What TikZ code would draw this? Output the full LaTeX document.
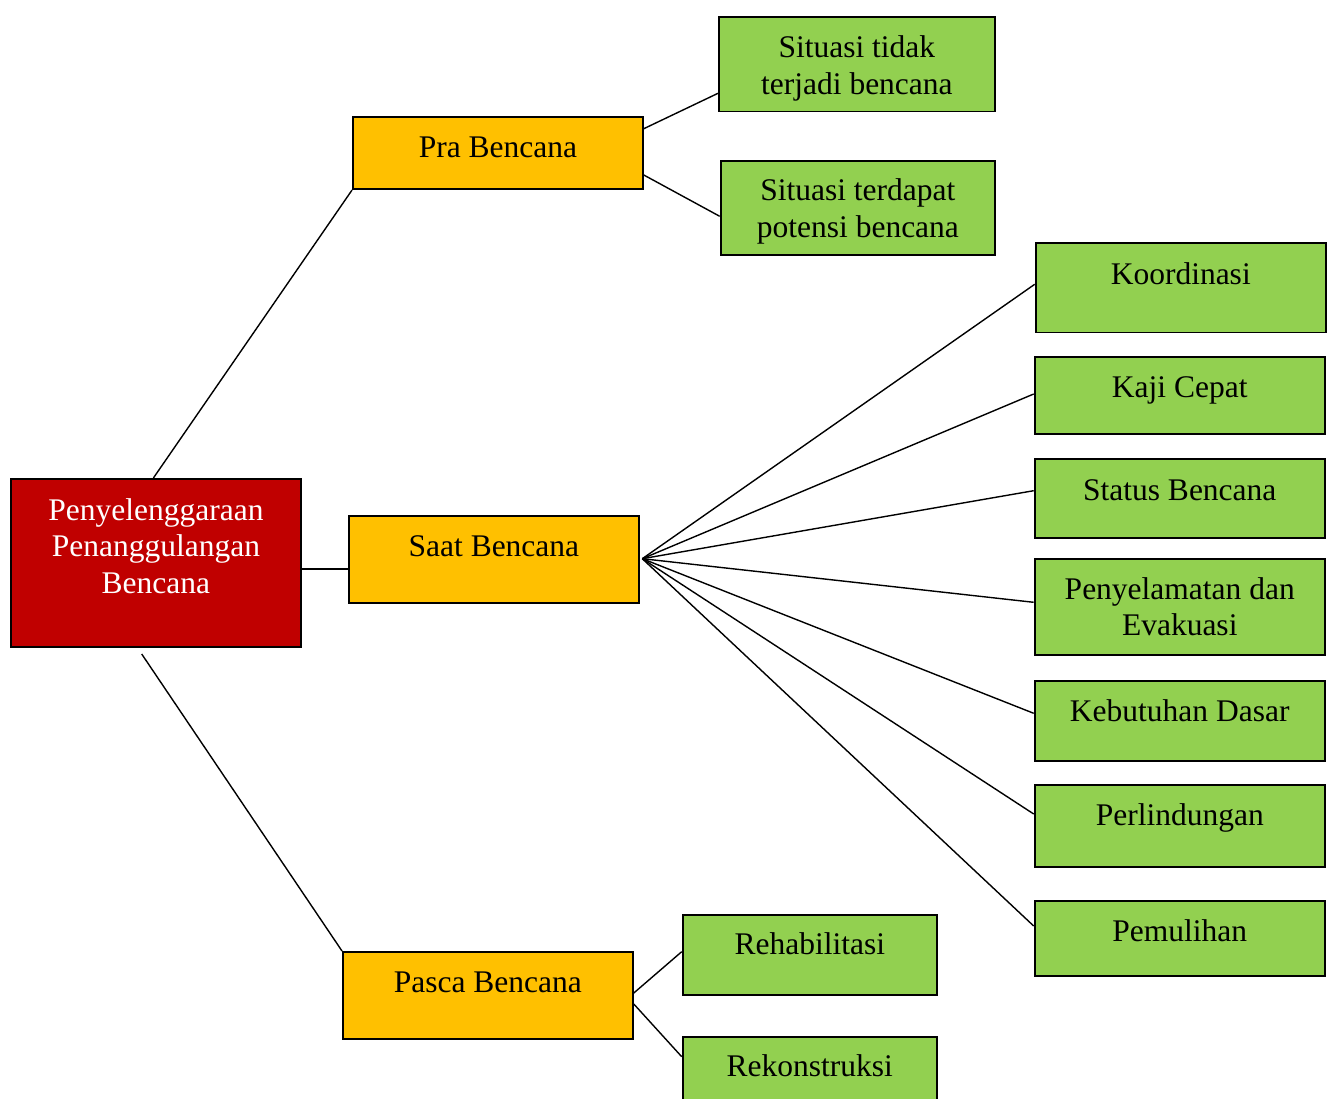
\documentclass[tikz,border=0pt]{standalone}
\usepackage{fontspec}
\setmainfont{Liberation Serif}
\definecolor{rootred}{HTML}{C00000}
\definecolor{phaseorange}{HTML}{FFC000}
\definecolor{itemgreen}{HTML}{92D050}
\newcommand{\twolines}[2]{\begin{tabular}[t]{@{}c@{}}#1\\#2\end{tabular}}
\newcommand{\threelines}[3]{\begin{tabular}[t]{@{}c@{}}#1\\#2\\#3\end{tabular}}
\tikzset{
  box/.style={draw=black, line width=1.8pt, inner sep=0pt, anchor=north west,
    font=\fontsize{31.5}{36.5}\selectfont},
  rootbox/.style={box, fill=rootred, text=white},
  phasebox/.style={box, fill=phaseorange},
  itembox/.style={box, fill=itemgreen},
  link/.style={draw=black, line width=1.4pt},
}
\begin{document}
\begin{tikzpicture}[x=1pt,y=-1pt]
\useasboundingbox (0,0) rectangle (1331,1099);
% root
\node[rootbox, minimum width=290pt, text height=41.3pt, text depth=126.7pt] (root) at (10,478)
  {\threelines{Penyelenggaraan}{Penanggulangan}{Bencana}};
% phases
\node[phasebox, minimum width=290pt, text height=40.7pt, text depth=31.6pt] (pra) at (352,116) {Pra Bencana};
\node[phasebox, minimum width=290pt, text height=40.5pt, text depth=46.5pt] (saat) at (348,515) {Saat Bencana};
\node[phasebox, minimum width=290pt, text height=40.5pt, text depth=46.5pt] (pasca) at (342,951) {Pasca Bencana};
% pra items
\node[itembox, minimum width=276pt, text height=40.8pt, text depth=53.9pt] (sit1) at (718,16)
  {\twolines{Situasi tidak}{terjadi bencana}};
\node[itembox, minimum width=274.6pt, text height=39.7pt, text depth=54pt] (sit2) at (719.7,160.3)
  {\twolines{Situasi terdapat}{potensi bencana}};
% saat items
\node[itembox, minimum width=290.3pt, text height=41pt, text depth=48.4pt] (koor) at (1034.7,242.3) {Koordinasi};
\node[itembox, minimum width=290.3pt, text height=40.7pt, text depth=36.6pt] (kaji) at (1033.7,356) {Kaji Cepat};
\node[itembox, minimum width=290.3pt, text height=41.7pt, text depth=36.7pt] (stat) at (1033.7,458.3) {Status Bencana};
\node[itembox, minimum width=290.3pt, text height=40.2pt, text depth=55.5pt] (peny) at (1033.7,558.3)
  {\twolines{Penyelamatan dan}{Evakuasi}};
\node[itembox, minimum width=290.3pt, text height=40.7pt, text depth=39.3pt] (kebu) at (1033.7,680) {Kebutuhan Dasar};
\node[itembox, minimum width=290.3pt, text height=40pt, text depth=41.7pt] (perl) at (1033.7,784.3) {Perlindungan};
\node[itembox, minimum width=290.3pt, text height=41pt, text depth=34pt] (pemu) at (1033.7,900) {Pemulihan};
% pasca items
\node[itembox, minimum width=254.3pt, text height=40pt, text depth=40.3pt] (rehab) at (681.7,914) {Rehabilitasi};
\node[itembox, minimum width=254.3pt, text height=40pt, text depth=34pt] (rekon) at (681.7,1036) {Rekonstruksi};
% free ends
\coordinate (fan) at (642.3,558.7);
\coordinate (rootlow) at (141.7,654);
% connectors from root
\draw[link] ([xshift=-2.5pt]root.north) -- (pra.south west);
\draw[link] ([yshift=-6pt]root.east) -- ([yshift=-6pt]root.east -| saat.west);
\draw[link] (rootlow) -- (pasca.north west);
% pra
\draw[link] ([yshift=-12.7pt]pra.north east) -- ([yshift=-77.3pt]sit1.north west);
\draw[link] ([yshift=-59pt]pra.north east) -- ([yshift=-56pt]sit2.north west);
% saat fan
\draw[link] (fan) -- ([yshift=-42pt]koor.north west);
\draw[link] (fan) -- ([yshift=-38pt]kaji.north west);
\draw[link] (fan) -- ([yshift=-32.4pt]stat.north west);
\draw[link] (fan) -- ([yshift=-44pt]peny.north west);
\draw[link] (fan) -- ([yshift=-33.3pt]kebu.north west);
\draw[link] (fan) -- ([yshift=-29.7pt]perl.north west);
\draw[link] (fan) -- ([yshift=-26pt]pemu.north west);
% pasca
\draw[link] ([yshift=-42pt]pasca.north east) -- ([yshift=-37.7pt]rehab.north west);
\draw[link] ([yshift=-53pt]pasca.north east) -- ([yshift=-20.7pt]rekon.north west);
\end{tikzpicture}
\end{document}
